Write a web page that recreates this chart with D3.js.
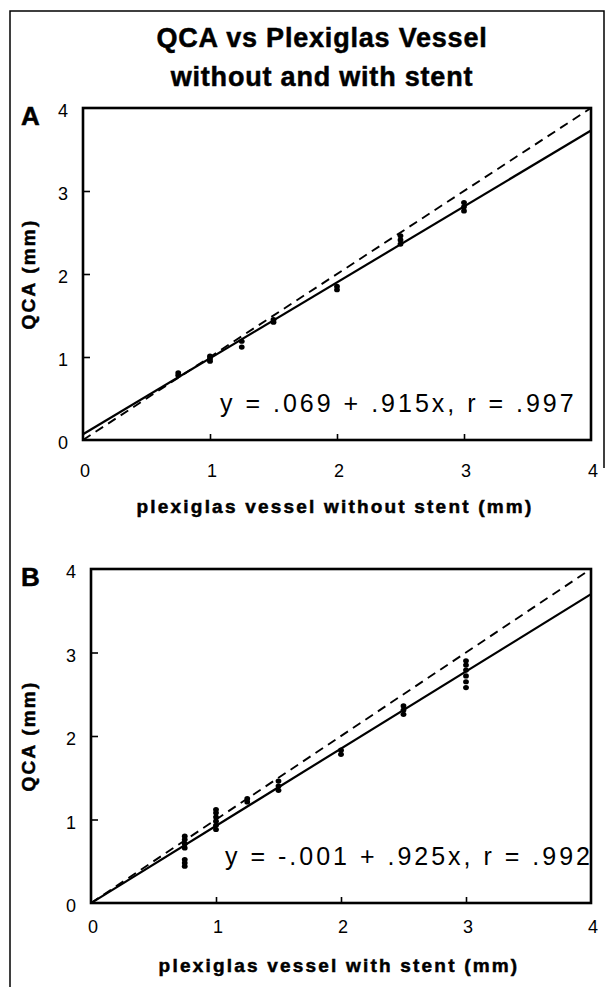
<!DOCTYPE html>
<html>
<head>
<meta charset="utf-8">
<script src="https://cdn.jsdelivr.net/npm/d3@7/dist/d3.min.js"></script>
<style>
  html, body { margin: 0; padding: 0; background: #fff; }
  svg { display: block; }
  text { font-family: "Liberation Sans", Arial, Helvetica, sans-serif; fill: #000; }
  text.heavy { stroke: #000; stroke-width: 0.5px; }
</style>
</head>
<body>
<svg id="chart" width="607" height="987"></svg>
<script>
// ---- data ----
const titleLines = ["QCA vs Plexiglas Vessel", "without and with stent"];
const panelLetters = ["A", "B"];
const xLabels = ["plexiglas vessel without stent (mm)", "plexiglas vessel with stent (mm)"];
const yLabel = "QCA (mm)";
const xTickValues = [0, 1, 2, 3, 4];
const yTickValues = [0, 1, 2, 3, 4];
const axisDomain = [0, 4];

const xA = [0.75, 0.75, 1, 1, 1, 1.25, 1.25, 1.5, 1.5, 2, 2, 2.5, 2.5, 2.5, 3, 3, 3];
const yA = [0.78, 0.81, 0.95, 0.98, 1.01, 1.12, 1.19, 1.42, 1.45, 1.81, 1.85, 2.36, 2.41, 2.46, 2.76, 2.81, 2.86];

const xB = [0.75, 0.75, 0.75, 0.75, 0.75, 0.75, 0.75, 1, 1, 1, 1, 1, 1, 1.25, 1.25, 1.5, 1.5, 1.5, 2, 2, 2.5, 2.5, 2.5, 3, 3, 3, 3, 3, 3];
const yB = [0.44, 0.48, 0.52, 0.66, 0.71, 0.76, 0.80, 0.88, 0.93, 0.98, 1.03, 1.08, 1.12, 1.21, 1.25, 1.35, 1.40, 1.46, 1.78, 1.83, 2.26, 2.31, 2.36, 2.58, 2.65, 2.72, 2.79, 2.85, 2.90];

const fitA = [0.069, 0.915];   // intercept, slope
const fitB = [-0.001, 0.925];
const identity = [0, 1];
const equations = ["y = .069 + .915x, r = .997", "y = -.001 + .925x, r = .992"];

// ---- layout ----
const svg = d3.select("#chart");

// outer frame
svg.append("path")
  .attr("d", "M10,987 V11 H604 V468")
  .attr("fill", "none").attr("stroke", "#000").attr("stroke-width", 1.5);

// title
svg.selectAll("text.title").data(titleLines).enter().append("text")
  .attr("class", "title heavy")
  .attr("x", 322).attr("y", (d, i) => 47 + i * 39)
  .attr("text-anchor", "middle")
  .style("font-size", "27px").style("font-weight", "bold").style("letter-spacing", "0.8px")
  .text(d => d);

const panels = [
  { xs: xA, ys: yA, fit: fitA, left: 83, right: 591, top: 108, bottom: 440,
    letterY: 125, tickLabelY: 477, xLabelY: 513, eqX: 220, eqY: 412 },
  { xs: xB, ys: yB, fit: fitB, left: 91, right: 591, top: 569, bottom: 903,
    letterY: 586, tickLabelY: 933, xLabelY: 972, eqX: 225, eqY: 865 }
];

panels.forEach((p, idx) => {
  const x = d3.scaleLinear().domain(axisDomain).range([p.left, p.right]);
  const y = d3.scaleLinear().domain(axisDomain).range([p.bottom, p.top]);
  const g = svg.append("g");

  // inward ticks via d3 axes
  const xAxis = d3.axisTop(x).tickValues(xTickValues.filter(v => v > 0 && v < 4)).tickSize(6).tickFormat("");
  const yAxis = d3.axisRight(y).tickValues(yTickValues.filter(v => v > 0 && v < 4)).tickSize(7).tickFormat("");
  const gx = g.append("g").attr("transform", `translate(0,${p.bottom})`).call(xAxis);
  const gy = g.append("g").attr("transform", `translate(${p.left},0)`).call(yAxis);
  [gx, gy].forEach(a => {
    a.select(".domain").remove();
    a.selectAll(".tick line").attr("stroke", "#000").attr("stroke-width", 1.6);
  });

  // tick labels
  g.selectAll("text.xt").data(xTickValues).enter().append("text")
    .attr("x", d => x(d) + 2).attr("y", p.tickLabelY)
    .attr("text-anchor", "middle").style("font-size", "18px")
    .text(d => d);
  g.selectAll("text.yt").data(yTickValues).enter().append("text")
    .attr("x", p.left - 15).attr("y", d => y(d) + 9)
    .attr("text-anchor", "end").style("font-size", "18px")
    .text(d => d);

  // identity dashed line
  g.append("line")
    .attr("x1", x(0)).attr("y1", y(identity[0]))
    .attr("x2", x(4)).attr("y2", y(identity[0] + identity[1] * 4))
    .attr("stroke", "#000").attr("stroke-width", 1.9).attr("stroke-dasharray", "9,6");

  // regression line
  g.append("line")
    .attr("x1", x(0)).attr("y1", y(p.fit[0]))
    .attr("x2", x(4)).attr("y2", y(p.fit[0] + p.fit[1] * 4))
    .attr("stroke", "#000").attr("stroke-width", 2.2);

  // points
  g.selectAll("ellipse").data(p.xs.map((v, i) => [v, p.ys[i]])).enter().append("ellipse")
    .attr("cx", d => x(d[0])).attr("cy", d => y(d[1]))
    .attr("rx", 2.9).attr("ry", 2.6).attr("fill", "#000");

  // box
  g.append("rect")
    .attr("x", p.left).attr("y", p.top)
    .attr("width", p.right - p.left).attr("height", p.bottom - p.top)
    .attr("fill", "none").attr("stroke", "#000").attr("stroke-width", 2.6);

  // equation
  g.append("text")
    .attr("x", p.eqX).attr("y", p.eqY)
    .style("font-size", "25px").style("letter-spacing", "3px")
    .text(equations[idx]);

  // panel letter
  g.append("text")
    .attr("class", "heavy")
    .attr("x", 21).attr("y", p.letterY)
    .style("font-size", "26px").style("font-weight", "bold")
    .text(panelLetters[idx]);

  // x label
  g.append("text")
    .attr("class", "heavy")
    .attr("x", (p.left + p.right) / 2 - 2).attr("y", p.xLabelY)
    .attr("text-anchor", "middle")
    .style("font-size", "19px").style("font-weight", "bold").style("letter-spacing", "2.2px")
    .text(xLabels[idx]);

  // y label
  g.append("text")
    .attr("class", "heavy")
    .attr("transform", `translate(35,${(p.top + p.bottom) / 2}) rotate(-90)`)
    .attr("text-anchor", "middle")
    .style("font-size", "19px").style("font-weight", "bold").style("letter-spacing", "2.2px")
    .text(yLabel);
});
</script>
</body>
</html>
